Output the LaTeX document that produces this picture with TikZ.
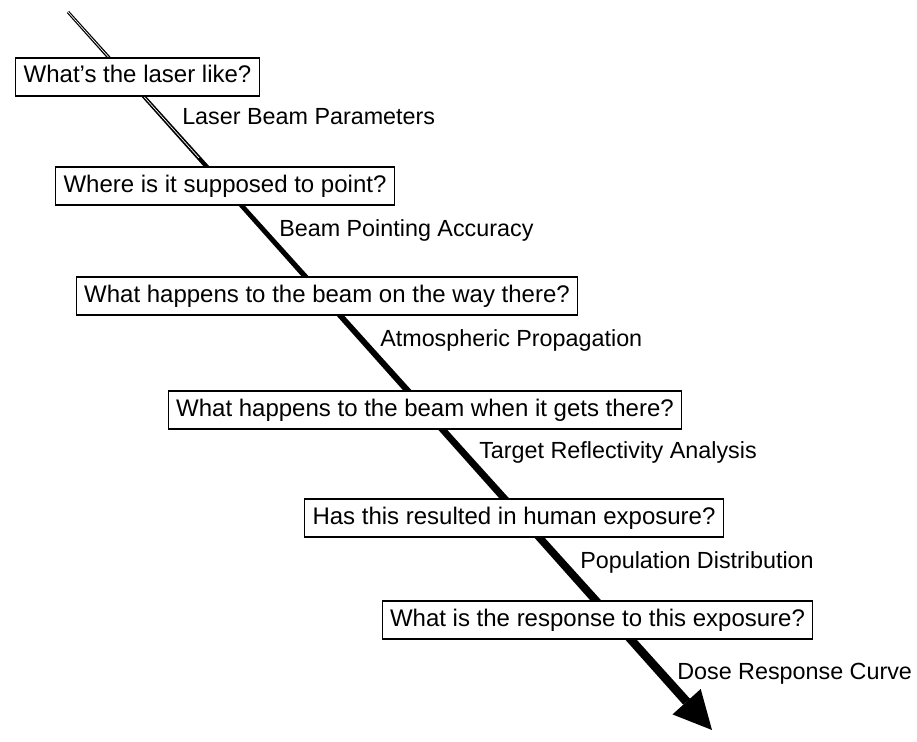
\documentclass[tikz,border=0pt]{standalone}
\usepackage{fontspec}
\setmainfont{Liberation Sans}
\usetikzlibrary{calc}
\begin{document}
\begin{tikzpicture}[x=0.75pt,y=-0.75pt,
  qbox/.style={draw=black,line width=0.8pt,fill=white,inner xsep=6pt,inner ysep=0pt,minimum height=28.5pt,font=\fontsize{18}{20}\selectfont,text height=13pt,text depth=4pt},
  plabel/.style={anchor=west,inner sep=0pt,font=\fontsize{17.5}{20}\selectfont}]
\useasboundingbox (0,0) rectangle (917,742);
% beam
\coordinate (top) at (68,12);
\coordinate (tip) at (712,730);
\coordinate (hb) at (686.6,701.7);
\fill[black] ($(top)+(-1.1,1.0)$) -- ($(top)+(1.1,-1.0)$) -- ($(hb)+(3.35,-3.0)$) -- ($(hb)+(-3.35,3.0)$) -- cycle;
\fill[black] (tip) -- ($(hb)+(14.1,-12.7)$) -- ($(hb)+(-14.1,12.7)$) -- cycle;
\draw[white,line width=0.5pt] (top) -- (199,158);
% questions
\node[qbox] (q1) at (137.5,77) {What’s the laser like?};
\node[qbox] (q2) at (225,186) {Where is it supposed to point?};
\node[qbox] (q3) at (327,296) {What happens to the beam on the way there?};
\node[qbox] (q4) at (425,410) {What happens to the beam when it gets there?};
\node[qbox] (q5) at (514,518) {Has this resulted in human exposure?};
\node[qbox] (q6) at (597.5,620) {What is the response to this exposure?};
% labels
\node[plabel] (l1) at (182,117) {Laser Beam Parameters};
\node[plabel] (l2) at (279,230) {Beam Pointing Accuracy};
\node[plabel] (l3) at (380,340) {Atmospheric Propagation};
\node[plabel] (l4) at (479,452) {Target Reflectivity Analysis};
\node[plabel] (l5) at (580,562) {Population Distribution};
\node[plabel] (l6) at (677,674) {Dose Response Curve};
\end{tikzpicture}
\end{document}
